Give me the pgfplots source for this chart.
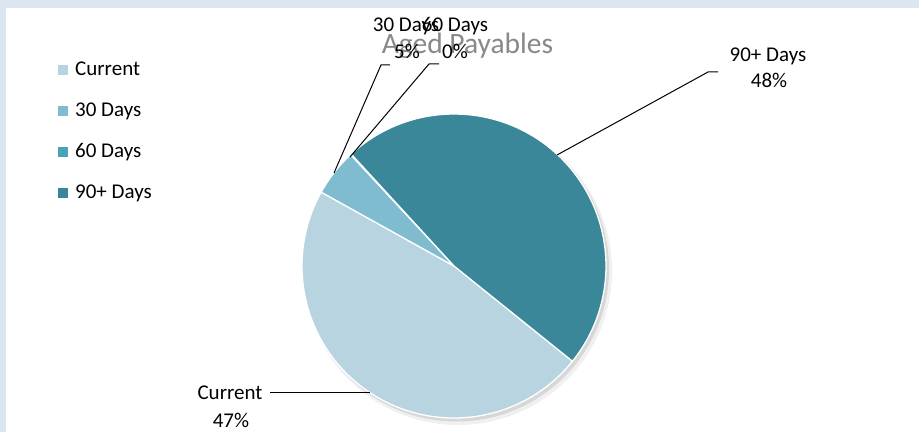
\documentclass[border=0pt]{standalone}
\usepackage{fontspec}
\setmainfont{Carlito}
\usepackage{pgfplots}
\pgfplotsset{compat=1.18}
\definecolor{cBg}{RGB}{220,230,241}
\definecolor{cCur}{RGB}{183,212,224}
\definecolor{cThirty}{RGB}{127,188,208}
\definecolor{cSixty}{RGB}{75,163,185}
\definecolor{cNinety}{RGB}{58,135,154}
\definecolor{cTitle}{RGB}{137,137,137}
\newcommand{\lab}{\fontsize{21}{25}\selectfont}
\newcommand{\ttl}{\fontsize{29.5}{34}\selectfont}
\begin{document}
\begin{tikzpicture}
% values (percent)
\pgfmathsetmacro\vCur{47.3}
\pgfmathsetmacro\vThirty{5.0}
\pgfmathsetmacro\vSixty{0.1}
\pgfmathsetmacro\vNinety{47.6}
\pgfmathsetmacro\aA{-38.8}
\pgfmathsetmacro\aB{\aA-3.6*\vCur}
\pgfmathsetmacro\aC{\aB-3.6*\vThirty}
\pgfmathsetmacro\aD{\aC-3.6*\vSixty}
\pgfmathsetmacro\aE{\aD-3.6*\vNinety}
\begin{axis}[
  width=919pt, height=432pt, scale only axis,
  xmin=0, xmax=919, ymin=0, ymax=432,
  hide axis, enlargelimits=false, clip=false,
]
% frame
\fill[cBg] (axis cs:0,0) rectangle (axis cs:919,432);
\fill[white] (axis cs:6,0) rectangle (axis cs:919,424);
% shadow
\fill[black, opacity=0.06] (axis cs:458,161) circle[radius=154pt];
\fill[black, opacity=0.10] (axis cs:456.5,163) circle[radius=152.5pt];
% slices
\filldraw[fill=cCur, draw=white, line width=1.3pt] (axis cs:454,166) -- ++(\aA:152pt) arc[start angle=\aA, end angle=\aB, radius=152pt] -- cycle;
\filldraw[fill=cThirty, draw=white, line width=1.3pt] (axis cs:454,166) -- ++(\aB:152pt) arc[start angle=\aB, end angle=\aC, radius=152pt] -- cycle;
\filldraw[fill=cSixty, draw=white, line width=0.6pt] (axis cs:454,166) -- ++(\aC:152pt) arc[start angle=\aC, end angle=\aD, radius=152pt] -- cycle;
\filldraw[fill=cNinety, draw=white, line width=1.3pt] (axis cs:454,166) -- ++(\aD:152pt) arc[start angle=\aD, end angle=\aE, radius=152pt] -- cycle;
% title
\node[anchor=base, text=cTitle, font=\ttl, inner sep=0pt] at (axis cs:467.5,378) {Aged Payables};
% leader lines
\draw[black, line width=1pt] (axis cs:370,40) -- (axis cs:270,40);
\draw[black, line width=1pt] (axis cs:557,277) -- (axis cs:708,360) -- (axis cs:718,360);
\draw[black, line width=1pt] (axis cs:334,259) -- (axis cs:381,367) -- (axis cs:390,367);
\draw[black, line width=1pt] (axis cs:350,275) -- (axis cs:429,368) -- (axis cs:439,368);
% data labels
\node[anchor=base, font=\lab, inner sep=0pt] at (axis cs:230,33) {Current};
\node[anchor=base, font=\lab, inner sep=0pt] at (axis cs:231,5) {47\%};
\node[anchor=base, font=\lab, inner sep=0pt] at (axis cs:768,370) {90+ Days};
\node[anchor=base, font=\lab, inner sep=0pt] at (axis cs:769,344) {48\%};
\node[anchor=base, font=\lab, inner sep=0pt] at (axis cs:406,400) {30 Days};
\node[anchor=base, font=\lab, inner sep=0pt] at (axis cs:407,373) {5\%};
\node[anchor=base, font=\lab, inner sep=0pt] at (axis cs:455,400) {60 Days};
\node[anchor=base, font=\lab, inner sep=0pt] at (axis cs:455,373) {0\%};
% legend
\fill[cCur] (axis cs:58,357) rectangle (axis cs:68,367);
\fill[cThirty] (axis cs:58,316) rectangle (axis cs:68,326);
\fill[cSixty] (axis cs:58,275) rectangle (axis cs:68,285);
\fill[cNinety] (axis cs:58,234) rectangle (axis cs:68,244);
\node[anchor=base west, font=\lab, inner sep=0pt] at (axis cs:75,356) {Current};
\node[anchor=base west, font=\lab, inner sep=0pt] at (axis cs:75,315) {30 Days};
\node[anchor=base west, font=\lab, inner sep=0pt] at (axis cs:75,274) {60 Days};
\node[anchor=base west, font=\lab, inner sep=0pt] at (axis cs:75,233) {90+ Days};
\end{axis}
\end{tikzpicture}
\end{document}
